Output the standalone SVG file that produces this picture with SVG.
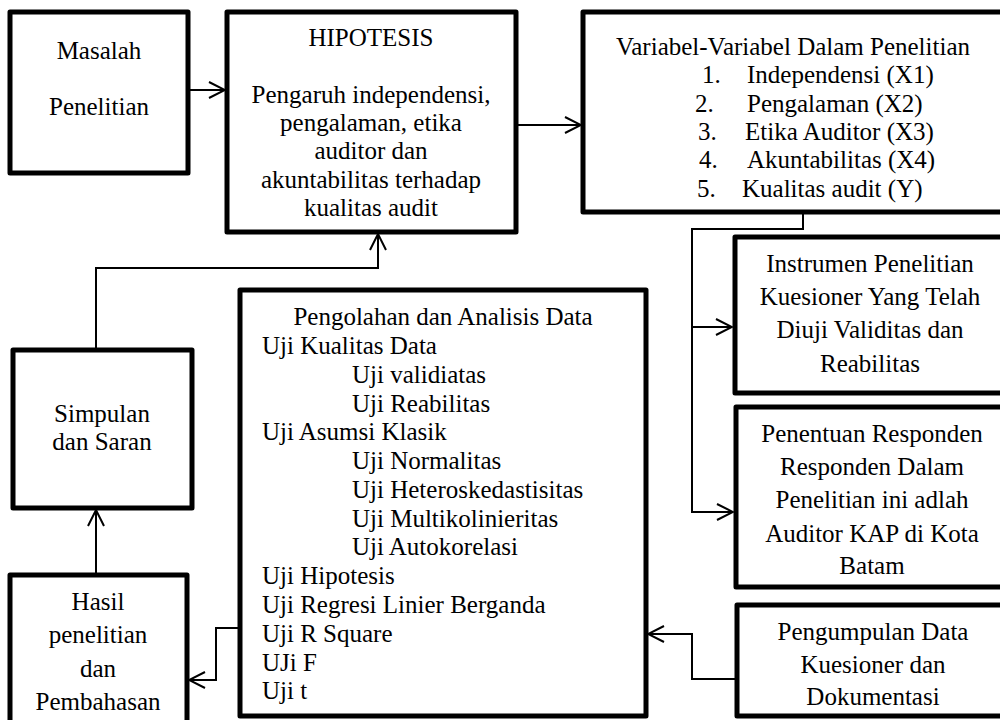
<svg xmlns="http://www.w3.org/2000/svg" width="1000" height="720" viewBox="0 0 1000 720">
<style>
.box{fill:#fff;stroke:#000;stroke-width:5;stroke-linejoin:round}
.t{font-family:"Liberation Serif","Times New Roman",serif;font-size:25px;fill:#000}
.c{text-anchor:middle}
.con{fill:none;stroke:#000;stroke-width:2}
</style>
<defs>
<marker id="arr" viewBox="0 0 18 18" refX="17" refY="9" markerWidth="18" markerHeight="18" markerUnits="userSpaceOnUse" orient="auto">
<path d="M1,1 L17,9 L1,17" fill="none" stroke="#000" stroke-width="2"/>
</marker>
</defs>
<rect width="1000" height="720" fill="#fff"/>
<g id="masalah">
<rect class="box" x="10" y="12" width="178" height="161"/>
<text class="t c" x="99" y="59">Masalah</text>
<text class="t c" x="99" y="115">Penelitian</text>
</g>
<g id="hipotesis">
<rect class="box" x="227" y="12" width="289" height="220"/>
<text class="t c" x="371" y="46">HIPOTESIS</text>
<text class="t c" x="371" y="103">Pengaruh independensi,</text>
<text class="t c" x="371" y="131">pengalaman, etika</text>
<text class="t c" x="371" y="159">auditor dan</text>
<text class="t c" x="371" y="188">akuntabilitas terhadap</text>
<text class="t c" x="371" y="216">kualitas audit</text>
</g>
<g id="variabel">
<rect class="box" x="583" y="12" width="420" height="200"/>
<text class="t c" x="793" y="55">Variabel-Variabel Dalam Penelitian</text>
<text class="t" x="702" y="83">1.</text><text class="t" x="747" y="83">Independensi (X1)</text>
<text class="t" x="695" y="112">2.</text><text class="t" x="747" y="112">Pengalaman (X2)</text>
<text class="t" x="698" y="140">3.</text><text class="t" x="745" y="140">Etika Auditor (X3)</text>
<text class="t" x="699" y="168">4.</text><text class="t" x="747" y="168">Akuntabilitas (X4)</text>
<text class="t" x="697" y="197">5.</text><text class="t" x="742" y="197">Kualitas audit (Y)</text>
</g>
<g id="instrumen">
<rect class="box" x="735" y="237" width="270" height="156"/>
<text class="t c" x="870" y="272">Instrumen Penelitian</text>
<text class="t c" x="870" y="305">Kuesioner Yang Telah</text>
<text class="t c" x="870" y="338">Diuji Validitas dan</text>
<text class="t c" x="870" y="372">Reabilitas</text>
</g>
<g id="penentuan">
<rect class="box" x="736" y="407" width="269" height="180"/>
<text class="t c" x="872" y="442">Penentuan Responden</text>
<text class="t c" x="872" y="475">Responden Dalam</text>
<text class="t c" x="872" y="508">Penelitian ini adlah</text>
<text class="t c" x="872" y="542">Auditor KAP di Kota</text>
<text class="t c" x="872" y="574">Batam</text>
</g>
<g id="pengumpulan">
<rect class="box" x="737" y="605" width="268" height="111"/>
<text class="t c" x="873" y="640">Pengumpulan Data</text>
<text class="t c" x="873" y="673">Kuesioner dan</text>
<text class="t c" x="873" y="705">Dokumentasi</text>
</g>
<g id="pengolahan">
<rect class="box" x="240" y="290" width="406" height="426"/>
<text class="t c" x="443" y="325">Pengolahan dan Analisis Data</text>
<text class="t" x="262" y="354">Uji Kualitas Data</text>
<text class="t" x="352" y="383">Uji validiatas</text>
<text class="t" x="352" y="412">Uji Reabilitas</text>
<text class="t" x="262" y="440">Uji Asumsi Klasik</text>
<text class="t" x="352" y="469">Uji Normalitas</text>
<text class="t" x="352" y="498">Uji Heteroskedastisitas</text>
<text class="t" x="352" y="527">Uji Multikolinieritas</text>
<text class="t" x="352" y="555">Uji Autokorelasi</text>
<text class="t" x="262" y="584">Uji Hipotesis</text>
<text class="t" x="262" y="613">Uji Regresi Linier Berganda</text>
<text class="t" x="262" y="642">Uji R Square</text>
<text class="t" x="262" y="671">UJi F</text>
<text class="t" x="262" y="699">Uji t</text>
</g>
<g id="simpulan">
<rect class="box" x="13" y="350" width="179" height="158"/>
<text class="t c" x="102" y="422">Simpulan</text>
<text class="t c" x="102" y="450">dan Saran</text>
</g>
<g id="hasil">
<rect class="box" x="10" y="575" width="177" height="160"/>
<text class="t c" x="98" y="610">Hasil</text>
<text class="t c" x="98" y="643">penelitian</text>
<text class="t c" x="98" y="677">dan</text>
<text class="t c" x="98" y="710">Pembahasan</text>
</g>
<g id="connectors">
<path class="con" d="M190,90 H225" marker-end="url(#arr)"/>
<path class="con" d="M518,125 H581" marker-end="url(#arr)"/>
<path class="con" d="M803,214 V229 H692 V512 H733" marker-end="url(#arr)"/>
<path class="con" d="M692,327 H732" marker-end="url(#arr)"/>
<path class="con" d="M735,679 H692 V634 H648" marker-end="url(#arr)"/>
<path class="con" d="M238,628 H216 V680 H189" marker-end="url(#arr)"/>
<path class="con" d="M96,573 V510" marker-end="url(#arr)"/>
<path class="con" d="M96,348 V268 H378 V234" marker-end="url(#arr)"/>
</g>
</svg>
